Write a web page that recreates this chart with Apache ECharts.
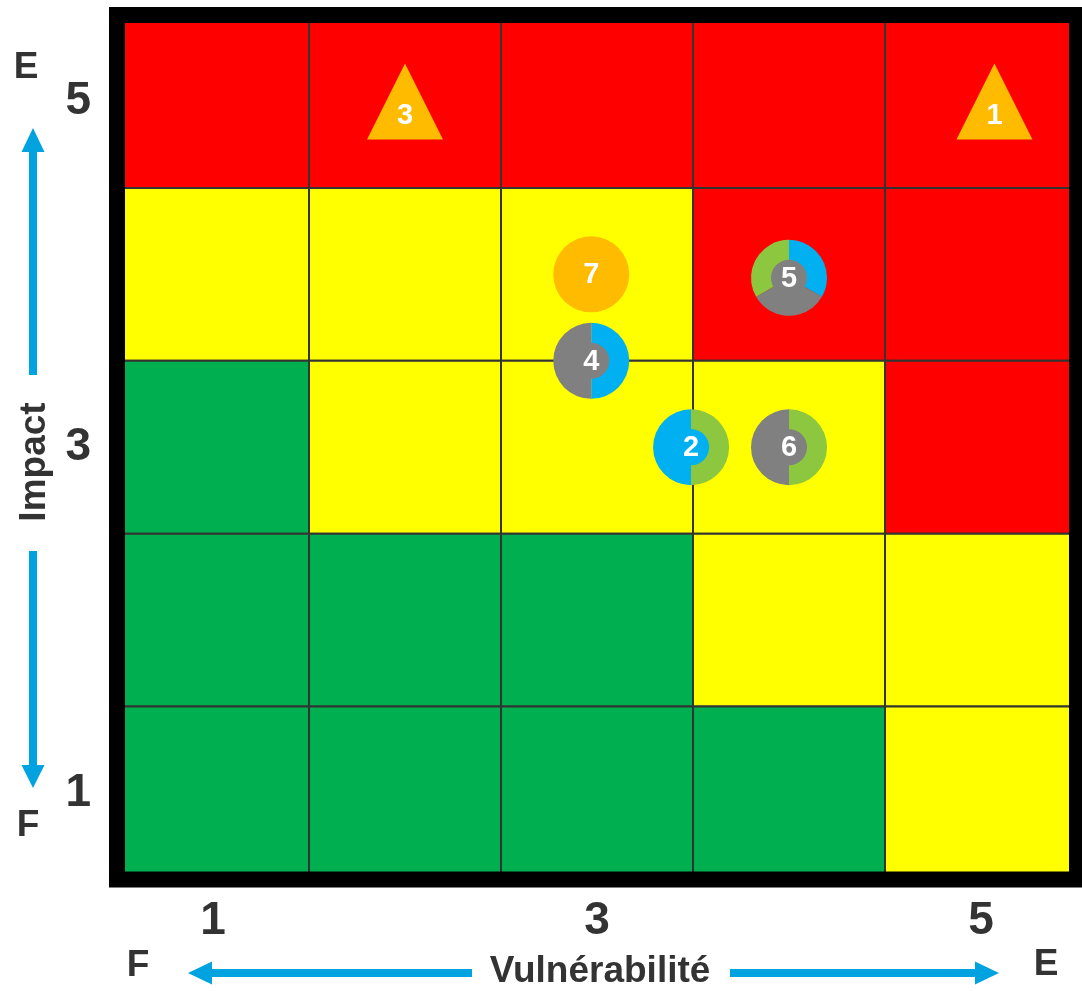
<!DOCTYPE html>
<html>
<head>
<meta charset="utf-8">
<title>Matrice des risques</title>
<script src="https://cdn.jsdelivr.net/npm/echarts@6/dist/echarts.min.js"></script>
<style>
  html, body { margin: 0; padding: 0; background: #ffffff; }
  #chart { width: 1082px; height: 991px; }
</style>
</head>
<body>
<div id="chart"></div>
<script>
// Axis scale (1 = faible, 5 = élevé) and the ticks that get a label
const levels = [1, 2, 3, 4, 5];
const tickLabels = [1, 3, 5];

// Zone of each cell, one row per impact level from 5 down to 1,
// one column per vulnerability level from 1 to 5
const impactRows = [5, 4, 3, 2, 1];
const zoneRows = [
  ['rouge', 'rouge', 'rouge', 'rouge', 'rouge'],
  ['jaune', 'jaune', 'jaune', 'rouge', 'rouge'],
  ['vert',  'jaune', 'jaune', 'jaune', 'rouge'],
  ['vert',  'vert',  'vert',  'jaune', 'jaune'],
  ['vert',  'vert',  'vert',  'vert',  'jaune']
];

// Risks placed on the matrix
const riskIds     = ['1', '2', '3', '4', '5', '6', '7'];
const riskVuln    = [5.07, 3.49, 2, 2.97, 4, 4, 2.97];
const riskImpact  = [5, 3, 5, 3.5, 3.98, 3, 4];
const riskShape   = ['triangle', 'anneau', 'triangle', 'anneau', 'anneau', 'anneau', 'disque'];
// Ring parts, clockwise from 12 o'clock, and the centre of each ring
const riskParts   = [[], ['vert', 'bleu'], [], ['bleu', 'gris'], ['bleu', 'gris', 'vert'], ['vert', 'gris'], []];
const riskCore    = [null, 'bleu', null, 'gris', 'gris', 'gris', null];

const zoneColor = { rouge: '#FF0000', jaune: '#FFFF00', vert: '#00B050' };
const partColor = { bleu: '#00B0F0', gris: '#808080', vert: '#8DC63F' };
const markerColor = '#FFBB00';
const arrowColor = '#00A3E0';
const textColor = '#333333';
const fontFamily = '"Liberation Sans", Arial, sans-serif';

// Cells as [vulnérabilité, impact, zone]
const cellData = [];
impactRows.forEach((imp, r) => {
  levels.forEach((v, c) => cellData.push([v, imp, zoneRows[r][c]]));
});

const riskData = riskIds.map((id, i) => [riskVuln[i], riskImpact[i], i]);

const chart = echarts.init(document.getElementById('chart'), null, { renderer: 'canvas' });

const axisCommon = {
  type: 'value',
  min: levels[0] - 0.5,
  max: levels[levels.length - 1] + 0.5,
  axisLine: { show: false },
  axisTick: { show: false },
  splitLine: { show: false },
  axisLabel: {
    customValues: tickLabels,
    fontSize: 46,
    fontWeight: 'bold',
    fontFamily: fontFamily,
    color: textColor
  }
};

function arrowPoly(points) {
  return { type: 'polygon', shape: { points: points }, style: { fill: arrowColor }, silent: true };
}
function bar(x, y, w, h) {
  return { type: 'rect', shape: { x: x, y: y, width: w, height: h }, style: { fill: arrowColor }, silent: true };
}
function label(text, x, y, rotation) {
  return {
    type: 'text', x: x, y: y, rotation: rotation || 0, silent: true,
    style: {
      text: text, fill: textColor, font: 'bold 37px ' + fontFamily,
      align: 'center', verticalAlign: 'middle'
    }
  };
}

const option = {
  backgroundColor: '#ffffff',
  animation: false,
  grid: { left: 117, top: 15, right: 5, bottom: 111.5, containLabel: false },
  xAxis: Object.assign({}, axisCommon, { axisLabel: Object.assign({}, axisCommon.axisLabel, { margin: 19 }) }),
  yAxis: Object.assign({}, axisCommon, { axisLabel: Object.assign({}, axisCommon.axisLabel, { margin: 26, padding: [5, 0, 0, 0] }) }),
  series: [
    {
      // Coloured zones of the matrix
      type: 'custom',
      z: 1,
      data: cellData,
      renderItem: function (params, api) {
        const v = api.value(0), imp = api.value(1);
        const zone = cellData[params.dataIndex][2];
        const p0 = api.coord([v - 0.5, imp + 0.5]);
        const p1 = api.coord([v + 0.5, imp - 0.5]);
        return {
          type: 'rect',
          shape: { x: p0[0], y: p0[1], width: p1[0] - p0[0], height: p1[1] - p0[1] },
          style: { fill: zoneColor[zone], stroke: '#333333', lineWidth: 2 }
        };
      }
    },
    {
      // Heavy frame around the matrix
      type: 'custom',
      z: 3,
      data: [[levels[0] - 0.5, levels[levels.length - 1] + 0.5, levels[levels.length - 1] + 0.5, levels[0] - 0.5]],
      renderItem: function (params, api) {
        const p0 = api.coord([api.value(0), api.value(1)]);
        const p1 = api.coord([api.value(2), api.value(3)]);
        return {
          type: 'rect',
          shape: { x: p0[0], y: p0[1], width: p1[0] - p0[0], height: p1[1] - p0[1] },
          style: { fill: null, stroke: '#000000', lineWidth: 16 }
        };
      }
    },
    {
      // Risk markers
      type: 'custom',
      z: 4,
      data: riskData,
      renderItem: function (params, api) {
        const i = api.value(2);
        const c = api.coord([api.value(0), api.value(1)]);
        const R = 38, r0 = 18;
        const children = [];
        const txtStyle = {
          fill: '#ffffff', font: 'bold 29px ' + fontFamily,
          align: 'center', verticalAlign: 'middle'
        };
        if (riskShape[i] === 'triangle') {
          children.push({
            type: 'polygon',
            shape: { points: [[c[0], c[1] - R], [c[0] - R, c[1] + R], [c[0] + R, c[1] + R]] },
            style: { fill: markerColor }
          });
          children.push({ type: 'text', x: c[0], y: c[1] + 15, style: Object.assign({ text: riskIds[i] }, txtStyle) });
        } else if (riskShape[i] === 'disque') {
          children.push({ type: 'circle', shape: { cx: c[0], cy: c[1], r: R }, style: { fill: markerColor } });
          children.push({ type: 'text', x: c[0], y: c[1] + 1, style: Object.assign({ text: riskIds[i] }, txtStyle) });
        } else {
          const parts = riskParts[i];
          const step = Math.PI * 2 / parts.length;
          parts.forEach((p, k) => {
            children.push({
              type: 'sector',
              shape: {
                cx: c[0], cy: c[1], r0: 0, r: R,
                startAngle: -Math.PI / 2 + k * step,
                endAngle: -Math.PI / 2 + (k + 1) * step,
                clockwise: true
              },
              style: { fill: partColor[p] }
            });
          });
          children.push({ type: 'circle', shape: { cx: c[0], cy: c[1], r: r0 }, style: { fill: partColor[riskCore[i]] } });
          children.push({ type: 'text', x: c[0], y: c[1] + 1, style: Object.assign({ text: riskIds[i] }, txtStyle) });
        }
        return { type: 'group', children: children };
      }
    }
  ],
  graphic: [
    // Vertical axis: Impact, from faible (F) to élevé (E)
    label('E', 26, 68),
    arrowPoly([[33, 128], [21.5, 152], [44.5, 152]]),
    bar(29, 150, 8, 225),
    label('Impact', 35, 462, Math.PI / 2),
    bar(29, 551, 8, 216),
    arrowPoly([[21.5, 765], [44.5, 765], [33, 788]]),
    label('F', 28, 826),
    // Horizontal axis: Vulnérabilité
    label('F', 138, 966),
    arrowPoly([[188, 973], [212, 961.5], [212, 984.5]]),
    bar(210, 969, 262, 8),
    label('Vulnérabilité', 600, 972),
    bar(730, 969, 247, 8),
    arrowPoly([[975, 961.5], [975, 984.5], [999, 973]]),
    label('E', 1046, 965)
  ]
};

chart.setOption(option);
</script>
</body>
</html>
